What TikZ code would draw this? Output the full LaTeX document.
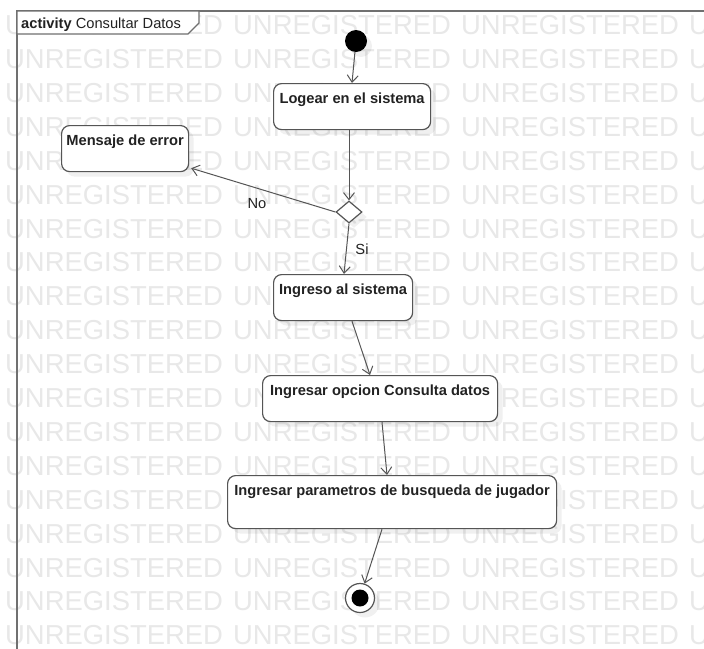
\documentclass[tikz,border=0pt]{standalone}
\usepackage{fontspec}
\setmainfont{Liberation Sans}
\usetikzlibrary{arrows.meta,shapes.geometric,shadows,calc}

\definecolor{linec}{HTML}{555555}
\definecolor{framec}{HTML}{707070}
\definecolor{textc}{HTML}{222222}
\definecolor{wmc}{HTML}{E8E8E8}

\tikzset{
  wm/.style={anchor=base west, inner sep=0pt, text=wmc,
    font=\fontsize{27.4}{30}\selectfont},
  soft/.style={drop shadow={shadow xshift=5pt, shadow yshift=-5pt,
    fill=black, opacity=0.06}},
  act/.style={draw=linec, line width=1.2pt, rounded corners=8pt, fill=white,
    soft, text=textc, anchor=north west, inner ysep=0pt, inner xsep=4pt,
    font=\bfseries\fontsize{14.67}{17}\selectfont,
    text height=19.5pt, text depth=26.5pt},
  flow/.style={draw=linec, line width=1pt,
    -{Straight Barb[length=7pt,width=11pt]}},
  guard/.style={text=textc, anchor=base, inner sep=0pt,
    font=\fontsize{14.67}{17}\selectfont},
}

\begin{document}
\begin{tikzpicture}[x=1pt,y=-1pt]
  \useasboundingbox (0,0) rectangle (704,648);
  \fill[white] (0,0) rectangle (704,648);

  % background watermark rows
  \foreach \n in {0,...,18}{
    \foreach \k in {0,...,3}{
      \node[wm] (wm-\n-\k) at ({5+228*\k},{34.6+33.9*\n}) {UNREGISTERED};
    }
  }

  % activity frame and its name tab
  \draw[framec, line width=1.4pt] (17,660) -- (17,11) -- (712,11);
  \draw[framec, line width=1.4pt, fill=white]
    (17,11) -- (199,11) -- (199,23) -- (188,34) -- (17,34) -- cycle;
  \node[anchor=base west, inner sep=0pt, text=textc,
        font=\fontsize{14.67}{17}\selectfont] (title) at (21,28)
    {\textbf{activity} Consultar Datos};

  % initial and final nodes
  \node[circle, fill=black, minimum size=22pt, inner sep=0pt, soft] (start) at (356,41) {};
  \node[circle, draw=linec, line width=1.2pt, fill=white, minimum size=29pt,
        inner sep=0pt, soft] (end) at (360,598) {};
  \node[circle, fill=black, minimum size=17pt, inner sep=0pt] (endcore) at (end) {};

  % actions
  \node[act, minimum width=157pt] (logear) at (273,83) {Logear en el sistema};
  \node[act, minimum width=127pt] (mensaje) at (61,125) {Mensaje de error};
  \node[act, minimum width=139pt] (ingreso) at (273,274) {Ingreso al sistema};
  \node[act, minimum width=235pt] (opcion) at (262,375) {Ingresar opcion Consulta datos};
  \node[act, minimum width=329pt, text depth=33.5pt] (param) at (227,475)
    {Ingresar parametros de busqueda de jugador};

  % decision
  \node[diamond, draw=linec, line width=1.2pt, fill=white, soft, inner sep=0pt,
        minimum width=26pt, minimum height=22pt] (dec) at (349,212) {};

  % control flows
  \draw[flow] (start) -- ($(logear.north west)+(79,0)$);
  \draw[flow] (logear.south -| dec.north) -- (dec.north);
  \draw[flow] (dec.west) -- ($(mensaje.south east)+(2,-4)$);
  \node[guard] (no) at (257,208) {No};
  \draw[flow] (dec.south) -- ($(ingreso.north west)+(71,0)$);
  \node[guard] (si) at (362,254) {Si};
  \draw[flow] ($(ingreso.south west)+(79,0)$) -- ($(opcion.north west)+(108,0)$);
  \draw[flow] ($(opcion.south west)+(120,0)$) -- ($(param.north west)+(160,0)$);
  \draw[flow] ($(param.south west)+(155,0)$) -- (end);
\end{tikzpicture}
\end{document}
